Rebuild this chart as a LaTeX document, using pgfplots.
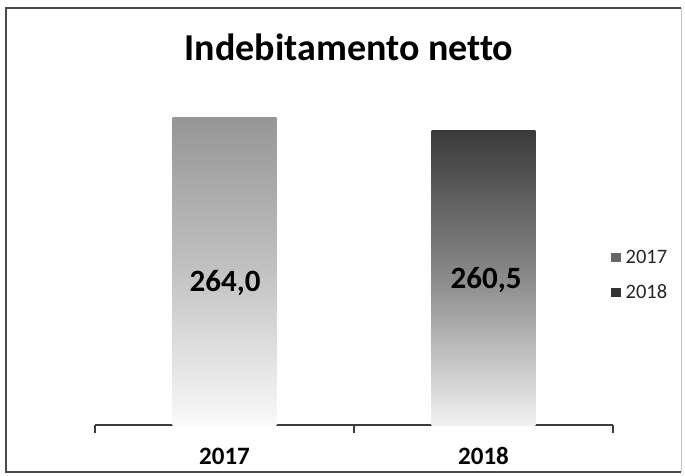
\documentclass[border=0pt]{standalone}
\usepackage{pgfplots}
\pgfplotsset{compat=1.18}
\usepackage{fontspec}
\setmainfont[Ligatures=NoCommon]{Carlito}
\definecolor{framecol}{HTML}{4A4A4A}
\definecolor{framelight}{HTML}{C8C8C8}
\definecolor{axisgray}{HTML}{3C3C3C}
\definecolor{legtext}{HTML}{262626}
\definecolor{leg1}{HTML}{666666}
\definecolor{leg2}{HTML}{333333}
\definecolor{b1top}{HTML}{969696}
\definecolor{b1mid}{HTML}{C2C2C2}
\definecolor{b1bot}{HTML}{FAFAFA}
\definecolor{b2top}{HTML}{3A3A3A}
\definecolor{b2mid}{HTML}{8A8A8A}
\definecolor{b2bot}{HTML}{F2F2F2}
\begin{document}
\begin{tikzpicture}[x=1pt,y=1pt]
\path[use as bounding box] (0,0) rectangle (685,475);
\draw[line width=1.5pt, color=framecol] (681,467) -- (6,467) -- (6,3) -- (681,3);
\draw[line width=1pt, color=framelight] (681,467) -- (681,3);
\node[font=\fontsize{38}{38}\selectfont\bfseries, anchor=base] at (349,414) {Indebitamento netto};
\begin{axis}[
  at={(95pt,50pt)}, anchor=south west,
  scale only axis, width=518pt, height=325pt,
  xmin=0, xmax=2,
  y coord trafo/.code={\pgfmathparse{#1-181}},
  ymin=181, ymax=268.6,
  axis x line=bottom, axis y line=none,
  x axis line style={-, line width=1.6pt, color=axisgray},
  xtick={0.5,1.5}, xticklabels={2017,2018},
  major tick length=0pt,
  minor xtick={0,1,2}, minor tick length=8pt,
  tick align=outside,
  every minor tick/.style={line width=1.6pt, color=axisgray},
  xticklabel style={font=\fontsize{25}{25}\selectfont\bfseries, anchor=base, yshift=-39pt},
  legend cell align=left,
  legend style={at={(rel axis cs:0.995,0.4615)}, anchor=west, draw=none, fill=none,
    inner sep=0pt, row sep=18pt, column sep=4pt,
    nodes={inner sep=1pt, font=\fontsize{20.5}{20.5}\selectfont, text=legtext}},
  clip=false,
]
\addplot[ybar, bar width=0.4, bar shift=0pt, draw=none,
  top color=b1top, bottom color=b1bot, middle color=b1mid, forget plot]
  coordinates {(0.5,264.0)};
\addplot[ybar, bar width=0.4, bar shift=0pt, draw=none,
  top color=b2top, bottom color=b2bot, middle color=b2mid, forget plot]
  coordinates {(1.5,260.5)};
\addlegendimage{fill=leg1, draw=none, legend image code/.code={\fill (0pt,-4.5pt) rectangle (10pt,4.5pt);}}
\addlegendentry{2017}
\addlegendimage{fill=leg2, draw=none, legend image code/.code={\fill (0pt,-4.5pt) rectangle (10pt,4.5pt);}}
\addlegendentry{2018}
\node[font=\fontsize{31}{31}\selectfont\bfseries] at (rel axis cs:0.251,0.437) {264,0};
\node[font=\fontsize{31}{31}\selectfont\bfseries] at (rel axis cs:0.755,0.446) {260,5};
\end{axis}
\end{tikzpicture}
\end{document}
